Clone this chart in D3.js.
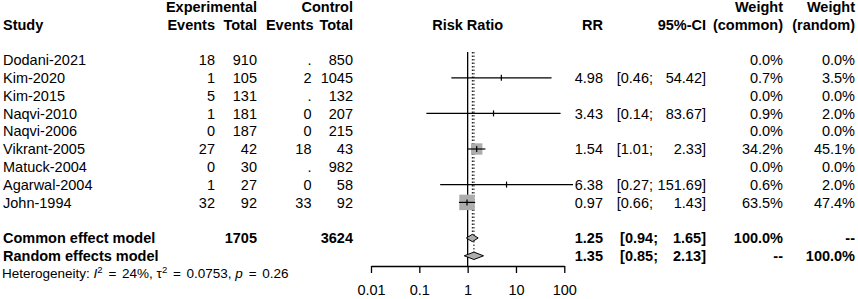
<!DOCTYPE html>
<html>
<head>
<meta charset="utf-8">
<script src="https://cdn.jsdelivr.net/npm/d3@7"></script>
<style>
  body { margin: 0; background: #fff; }
  text { font-family: "Liberation Sans", Arial, sans-serif; font-size: 14.5px; fill: #000; white-space: pre; }
  .bold { font-weight: bold; }
</style>
</head>
<body>
<div id="chart"></div>
<script>
// study level data
const studies    = ["Dodani-2021","Kim-2020","Kim-2015","Naqvi-2010","Naqvi-2006","Vikrant-2005","Matuck-2004","Agarwal-2004","John-1994"];
const expEvents  = [18, 1, 5, 1, 0, 27, 0, 1, 32];
const expTotal   = [910, 105, 131, 181, 187, 42, 30, 27, 92];
const ctrlEvents = [".", 2, ".", 0, 0, 18, ".", 0, 33];
const ctrlTotal  = [850, 1045, 132, 207, 215, 43, 982, 58, 92];
const rr         = [null, 4.98, null, 3.43, null, 1.54, null, 6.38, 0.97];
const lower      = [null, 0.46, null, 0.14, null, 1.01, null, 0.27, 0.66];
const upper      = [null, 54.42, null, 83.67, null, 2.33, null, 151.69, 1.43];
const wCommon    = [0.0, 0.7, 0.0, 0.9, 0.0, 34.2, 0.0, 0.6, 63.5];
const wRandom    = [0.0, 3.5, 0.0, 2.0, 0.0, 45.1, 0.0, 2.0, 47.4];

// pooled estimates
const pooledNames = ["Common effect model", "Random effects model"];
const pooledRR    = [1.25, 1.35];
const pooledLower = [0.94, 0.85];
const pooledUpper = [1.65, 2.13];
const pooledWC    = ["100.0%", "--"];
const pooledWR    = ["--", "100.0%"];
const totals      = [1705, 3624];

const tickValues = [0.01, 0.1, 1, 10, 100];
const tickLabels = ["0.01", "0.1", "1", "10", "100"];

const width = 858, height = 299;
const rowY = i => 60 + 17.8 * i;   // row centres
const dy = 5.2;                    // centre -> baseline

const svg = d3.select("#chart").append("svg")
    .attr("width", width)
    .attr("height", height);

const x = d3.scaleLog().domain([0.01, 100]).range([371, 564.3]);
const size = d3.scaleSqrt().domain([0, 63.5]).range([0, 15.5]);

// column right edges
const col = {exE: 215, exT: 257, ctE: 311.5, ctT: 353, rr: 603, lo: 653, hi: 706, wc: 783, wr: 855};

function txt(xp, y, s, anchor, cls) {
  return svg.append("text")
    .attr("x", xp).attr("y", y)
    .attr("text-anchor", anchor || "end")
    .attr("class", cls || null)
    .text(s);
}

// ---- headers
const h1 = rowY(-3) + dy, h2 = rowY(-2) + dy;
txt(3, h2, "Study", "start", "bold");
txt(col.exT, h1, "Experimental", "end", "bold");
txt(col.exE, h2, "Events", "end", "bold");
txt(col.exT, h2, "Total", "end", "bold");
txt(col.ctT, h1, "Control", "end", "bold");
txt(col.ctE + 2, h2, "Events", "end", "bold");
txt(col.ctT, h2, "Total", "end", "bold");
txt(x(1), h2, "Risk Ratio", "middle", "bold");
txt(col.rr, h2, "RR", "end", "bold");
txt(col.hi, h2, "95%-CI", "end", "bold");
txt(col.wc, h1, "Weight", "end", "bold");
txt(col.wc, h2, "(common)", "end", "bold");
txt(col.wr, h1, "Weight", "end", "bold");
txt(col.wr, h2, "(random)", "end", "bold");

// ---- study rows
studies.forEach((s, i) => {
  const y = rowY(i) + dy;
  txt(3, y, s, "start");
  txt(col.exE, y, expEvents[i]);
  txt(col.exT, y, expTotal[i]);
  txt(col.ctE, y, ctrlEvents[i]);
  txt(col.ctT, y, ctrlTotal[i]);
  if (rr[i] != null) {
    txt(col.rr, y, rr[i].toFixed(2));
    txt(col.lo, y, "[" + lower[i].toFixed(2) + ";");
    txt(col.hi, y, upper[i].toFixed(2) + "]");
  }
  txt(col.wc, y, wCommon[i].toFixed(1) + "%");
  txt(col.wr, y, wRandom[i].toFixed(1) + "%");
});

// ---- pooled rows
pooledNames.forEach((s, i) => {
  const y = rowY(10 + i) + dy;
  txt(3, y, s, "start", "bold");
  if (i === 0) {
    txt(col.exT, y, totals[0], "end", "bold");
    txt(col.ctT, y, totals[1], "end", "bold");
  }
  txt(col.rr, y, pooledRR[i].toFixed(2), "end", "bold");
  txt(col.lo + 5, y, "[" + pooledLower[i].toFixed(2) + ";", "end", "bold");
  txt(col.hi, y, pooledUpper[i].toFixed(2) + "]", "end", "bold");
  txt(col.wc, y, pooledWC[i], "end", "bold");
  txt(col.wr, y, pooledWR[i], "end", "bold");
});

// heterogeneity line (plotmath style: a little extra room around "=")
const het = svg.append("text").attr("x", 2).attr("y", rowY(12) + 4.8).style("font-size", "13.5px");
het.append("tspan").text("Heterogeneity: ");
het.append("tspan").style("font-style", "italic").text("I");
het.append("tspan").attr("dy", -5.5).style("font-size", "9.5px").text("2");
het.append("tspan").attr("dy", 5.5).attr("dx", 2).text(" = ");
het.append("tspan").attr("dx", 2).text("24%, \u03c4");
het.append("tspan").attr("dy", -5.5).style("font-size", "9.5px").text("2");
het.append("tspan").attr("dy", 5.5).attr("dx", 2).text(" = ");
het.append("tspan").attr("dx", 2).text("0.0753, ");
het.append("tspan").style("font-style", "italic").text("p");
het.append("tspan").attr("dx", 2).text(" = ");
het.append("tspan").attr("dx", 2).text("0.26");

// ---- forest plot
const axisY = 266, topY = 52;
const plot = svg.append("g");

// reference lines
plot.append("line")
  .attr("x1", x(1)).attr("x2", x(1))
  .attr("y1", topY).attr("y2", axisY)
  .attr("stroke", "#000").attr("stroke-width", 1.3);
plot.append("line")
  .attr("x1", x(pooledRR[0])).attr("x2", x(pooledRR[0]))
  .attr("y1", topY).attr("y2", rowY(10) - 3.7)
  .attr("stroke", "#000").attr("stroke-width", 1).attr("stroke-dasharray", "1.5,2");
plot.append("line")
  .attr("x1", x(pooledRR[1])).attr("x2", x(pooledRR[1]))
  .attr("y1", topY).attr("y2", rowY(11) - 3.7)
  .attr("stroke", "#000").attr("stroke-width", 1).attr("stroke-dasharray", "1.5,2");

const idx = d3.range(studies.length).filter(i => rr[i] != null);

// squares
plot.selectAll("rect.sq").data(idx).enter().append("rect")
  .attr("class", "sq")
  .attr("x", i => x(rr[i]) - size(wCommon[i]) / 2)
  .attr("y", i => rowY(i) - size(wCommon[i]) / 2)
  .attr("width", i => size(wCommon[i]))
  .attr("height", i => size(wCommon[i]))
  .attr("fill", "#adadad");

// confidence intervals
plot.selectAll("line.ci").data(idx).enter().append("line")
  .attr("class", "ci")
  .attr("x1", i => x(lower[i])).attr("x2", i => x(upper[i]))
  .attr("y1", i => rowY(i)).attr("y2", i => rowY(i))
  .attr("stroke", "#000").attr("stroke-width", 1.2);

// estimate ticks
plot.selectAll("line.est").data(idx).enter().append("line")
  .attr("class", "est")
  .attr("x1", i => x(rr[i])).attr("x2", i => x(rr[i]))
  .attr("y1", i => rowY(i) - 3).attr("y2", i => rowY(i) + 3)
  .attr("stroke", "#000").attr("stroke-width", 1.2);

// diamonds
plot.selectAll("path.dia").data([0, 1]).enter().append("path")
  .attr("class", "dia")
  .attr("d", i => {
    const y = rowY(10 + i), h = 3.7;
    return `M${x(pooledLower[i])},${y}L${x(pooledRR[i])},${y - h}L${x(pooledUpper[i])},${y}L${x(pooledRR[i])},${y + h}Z`;
  })
  .attr("fill", "#adadad").attr("stroke", "#000").attr("stroke-width", 1);

// axis
const axis = d3.axisBottom(x)
  .tickValues(tickValues)
  .tickFormat((d, i) => tickLabels[i])
  .tickSize(7)
  .tickSizeOuter(0)
  .tickPadding(12);
const ax = plot.append("g").attr("transform", `translate(0,${axisY})`).call(axis);
ax.attr("font-family", null).attr("font-size", null);
ax.select(".domain").attr("stroke-width", 1.3);
ax.selectAll(".tick line").attr("stroke-width", 1.3);
ax.selectAll(".tick text").style("font-size", "14.5px");
</script>
</body>
</html>
